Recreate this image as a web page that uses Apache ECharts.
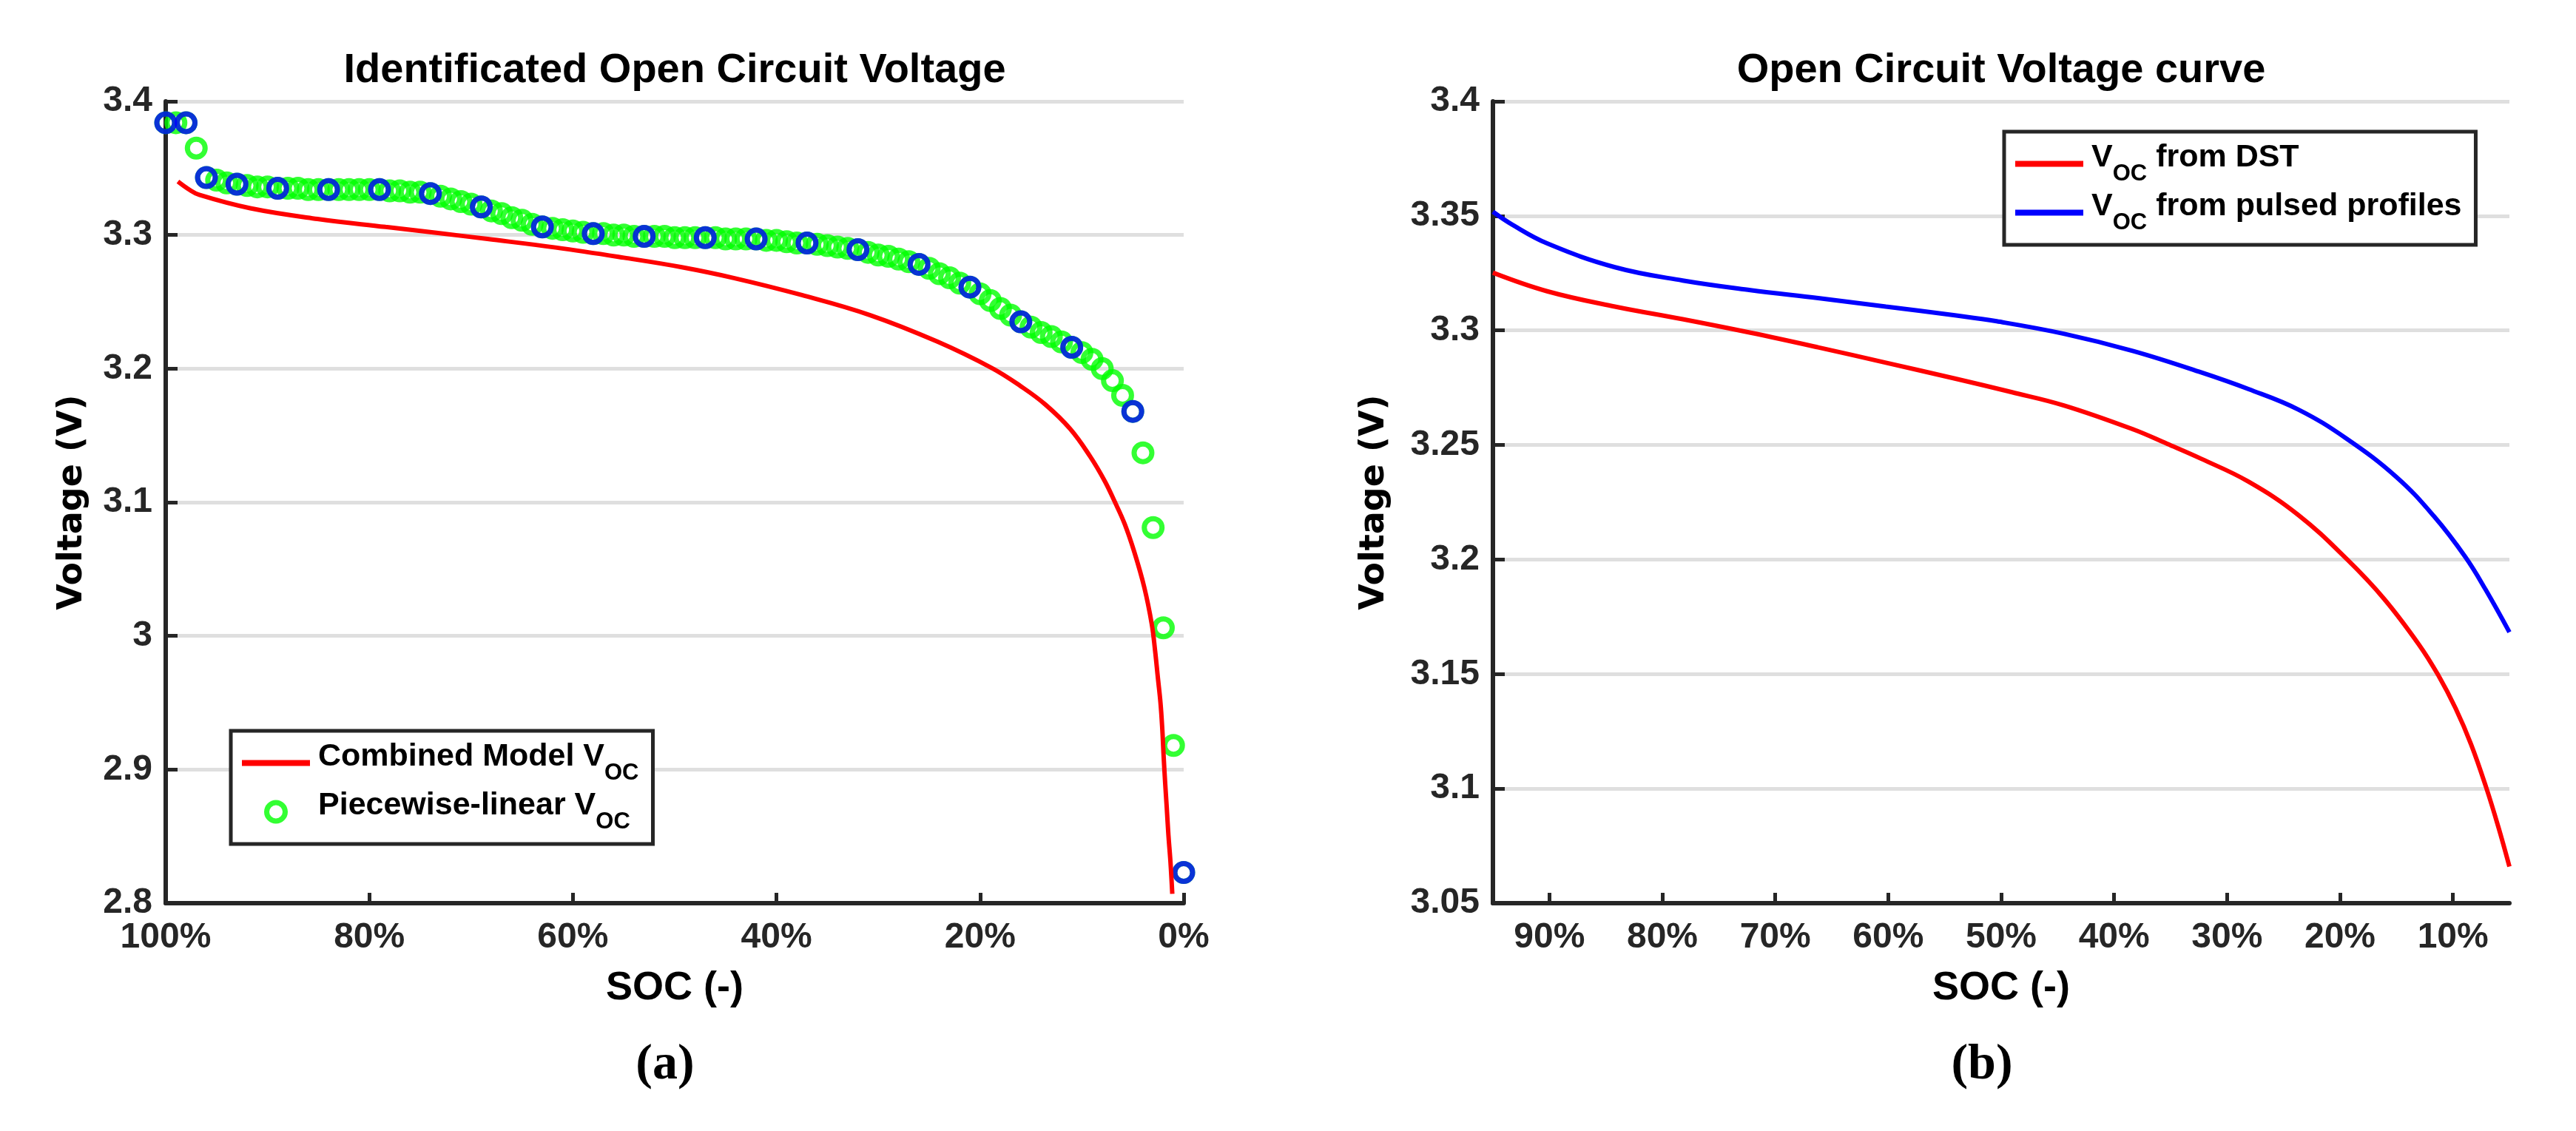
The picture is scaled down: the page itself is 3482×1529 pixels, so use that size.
<!DOCTYPE html>
<html>
<head>
<meta charset="utf-8">
<title>Open Circuit Voltage</title>
<script src="https://cdn.jsdelivr.net/npm/echarts@6/dist/echarts.min.js"></script>
<style>
    html, body { margin: 0; padding: 0; background: #fff; }
    #chart { width: 3482px; height: 1529px; }
</style>
</head>
<body>
<div id="chart"></div>
<script>
// ---- (a) identified OCV: SOC in %, voltage in V ----
var socPiecewise = [100, 99, 98, 97, 96, 95, 94, 93, 92, 91, 90, 89, 88, 87, 86, 85, 84, 83, 82, 81,
    80, 79, 78, 77, 76, 75, 74, 73, 72, 71, 70, 69, 68, 67, 66, 65, 64, 63, 62, 61,
    60, 59, 58, 57, 56, 55, 54, 53, 52, 51, 50, 49, 48, 47, 46, 45, 44, 43, 42, 41,
    40, 39, 38, 37, 36, 35, 34, 33, 32, 31, 30, 29, 28, 27, 26, 25, 24, 23, 22, 21,
    20, 19, 18, 17, 16, 15, 14, 13, 12, 11, 10, 9, 8, 7, 6, 5, 4, 3, 2, 1, 0];
var vPiecewise = [3.384, 3.384, 3.384, 3.365, 3.343, 3.341, 3.339, 3.338, 3.337, 3.336,
    3.336, 3.335, 3.335, 3.335, 3.334, 3.334, 3.334, 3.334, 3.334, 3.334,
    3.334, 3.334, 3.333, 3.333, 3.332, 3.332, 3.331, 3.329, 3.327, 3.325,
    3.323, 3.321, 3.318, 3.316, 3.313, 3.311, 3.308, 3.306, 3.305, 3.304,
    3.303, 3.302, 3.301, 3.301, 3.300, 3.300, 3.299, 3.299, 3.299, 3.299,
    3.298, 3.298, 3.298, 3.298, 3.298, 3.297, 3.297, 3.297, 3.297, 3.296,
    3.296, 3.295, 3.294, 3.294, 3.293, 3.292, 3.291, 3.290, 3.289, 3.287,
    3.285, 3.284, 3.282, 3.280, 3.278, 3.275, 3.271, 3.268, 3.264, 3.261,
    3.256, 3.251, 3.245, 3.240, 3.235, 3.231, 3.227, 3.224, 3.220, 3.216,
    3.212, 3.207, 3.200, 3.191, 3.180, 3.168, 3.137, 3.081, 3.006, 2.918, 2.823];

var socBreak = [100, 98, 96, 93, 89, 84, 79, 74, 69, 63, 58, 53, 47, 42, 37, 32, 26, 21, 16, 11, 5, 0];
var vBreak = [3.384, 3.384, 3.343, 3.338, 3.335, 3.334, 3.334, 3.331, 3.321, 3.306, 3.301,
    3.299, 3.298, 3.297, 3.294, 3.289, 3.278, 3.261, 3.235, 3.216, 3.168, 2.823];

var socModel = [98.8, 97.7, 96.7, 91.7, 85.1, 78.4, 73.4, 68.4, 61.7, 55.0, 49.4, 44.2, 37.5,
    30.8, 24.2, 18.84, 16.0, 13.57, 11.14, 9.21, 7.75, 6.78, 5.81, 4.84, 3.87, 3.14, 2.81,
    2.54, 2.28, 2.10, 1.97, 1.82, 1.66, 1.50, 1.30, 1.12];
var vModel = [3.340, 3.334, 3.330, 3.320, 3.312, 3.306, 3.3016, 3.297, 3.2906, 3.283, 3.276,
    3.2678, 3.255, 3.240, 3.2202, 3.2004, 3.1868, 3.1730, 3.1548, 3.1345, 3.1158, 3.1005, 3.0840,
    3.0625, 3.0363, 3.009, 2.989, 2.969, 2.950, 2.930, 2.910, 2.890, 2.871, 2.851, 2.831, 2.807];

// ---- (b) OCV curves ----
var socDst = [95, 90.2, 84.2, 78.2, 72.2, 66.2, 60.2, 54.1, 49.1, 44.4, 38.3, 35.3, 32.3, 28.1,
    23.7, 19.36, 16.09, 13.0, 11.3, 9.76, 8.4, 7.05, 6.0, 5.0];
var vDst = [3.3252, 3.3171, 3.3104, 3.3049, 3.2990, 3.2926, 3.2859, 3.2790, 3.2731, 3.2672,
    3.2568, 3.2505, 3.2440, 3.2340, 3.2195, 3.2000, 3.1828, 3.1628, 3.1495, 3.1350, 3.1194,
    3.1004, 3.0836, 3.0660];

var socPulsed = [95, 93.3, 90.2, 84.2, 78.2, 72.2, 66.2, 60.2, 54.1, 50.4, 44.4, 38.3, 32.3,
    28.1, 23.7, 19.4, 15.0, 11.7, 8.9, 7.1, 5];
var vPulsed = [3.3518, 3.3462, 3.3380, 3.3276, 3.3218, 3.3176, 3.3141, 3.3104, 3.3066, 3.3040,
    3.2985, 3.2910, 3.2817, 3.2744, 3.2655, 3.2527, 3.2360, 3.2190, 3.2011, 3.1868, 3.1683];

var socTicksB = [10, 20, 30, 40, 50, 60, 70, 80, 90];

function zip(xs, ys) {
    return xs.map(function (x, i) { return [x, ys[i]]; });
}

var FONT = '"Liberation Sans", Arial, Helvetica, sans-serif';
var WIDE = '"DejaVu Sans", Verdana, sans-serif';
var SERIF = '"Liberation Serif", "Times New Roman", serif';
var INK = '#262626';
var LINE_ICON = 'path://M0,0H92V8H0Z';

var NAMES = {
    model: 'Combined Model VOC',
    piece: 'Piecewise-linear VOC',
    dst: 'VOC from DST',
    pulsed: 'VOC from pulsed profiles'
};

// main text sits at the top of the line, "OC" is pushed down as a subscript
var legendRich = {
    mf: { fontFamily: FONT, fontSize: 43, fontWeight: 'bold', color: '#000', height: 43, verticalAlign: 'top', padding: [0, 0, 0, 6] },
    m: { fontFamily: FONT, fontSize: 43, fontWeight: 'bold', color: '#000', height: 43, verticalAlign: 'top' },
    s: { fontFamily: FONT, fontSize: 31, fontWeight: 'bold', color: '#000', height: 31, verticalAlign: 'bottom', padding: [28, 0, 0, 0] }
};

function legendText(name) {
    if (name === NAMES.model) return '{mf|Combined Model V}{s|OC}';
    if (name === NAMES.piece) return '{mf|Piecewise-linear V}{s|OC}';
    if (name === NAMES.dst) return '{mf|V}{s|OC}{m| from DST}';
    return '{mf|V}{s|OC}{m| from pulsed profiles}';
}

function xAxisOf(grid, min, max, extra) {
    var ax = {
        type: 'value', gridIndex: grid, min: min, max: max, inverse: true,
        name: 'SOC (-)', nameLocation: 'middle', nameGap: 88,
        nameTextStyle: { fontFamily: FONT, fontSize: 54, fontWeight: 'bold', color: '#000' },
        axisLine: { show: true, onZero: false, lineStyle: { color: INK, width: 6 } },
        axisTick: { show: true, inside: true, length: 14, lineStyle: { color: INK, width: 5 } },
        axisLabel: { margin: 23, fontFamily: FONT, fontSize: 48, fontWeight: 'bold', color: INK, formatter: '{value}%' },
        splitLine: { show: false }
    };
    for (var k in extra) {
        if (typeof extra[k] === 'object') Object.assign(ax[k], extra[k]); else ax[k] = extra[k];
    }
    return ax;
}

function yAxisOf(grid, min, max, step, gap) {
    return {
        type: 'value', gridIndex: grid, min: min, max: max, interval: step,
        name: 'Voltage (V)', nameLocation: 'middle', nameGap: gap,
        nameTextStyle: { fontFamily: WIDE, fontSize: 46, fontWeight: 'bold', color: '#000' },
        axisLine: { show: true, onZero: false, lineStyle: { color: INK, width: 6 } },
        axisTick: { show: true, inside: true, length: 16, lineStyle: { color: INK, width: 5 } },
        axisLabel: { margin: 18, fontFamily: FONT, fontSize: 48, fontWeight: 'bold', color: INK },
        splitLine: { show: true, lineStyle: { color: '#dfdfdf', width: 5 } }
    };
}

function legendOf(left, top, names) {
    return {
        orient: 'vertical', left: left, top: top,
        data: names.map(function (n) {
            if (n === NAMES.piece) {
                return { name: n, icon: 'circle', itemStyle: { color: 'rgba(0,0,0,0)', borderColor: '#00ff00', borderWidth: 7 } };
            }
            return { name: n, icon: LINE_ICON };
        }),
        itemWidth: 92, itemHeight: 25, itemGap: 7,
        padding: [14, 19, 14, 15],
        backgroundColor: '#fff', borderColor: INK, borderWidth: 5, borderRadius: 0,
        selectedMode: false,
        formatter: legendText,
        textStyle: { rich: legendRich }
    };
}

function titleOf(text, cx) {
    return {
        text: text, left: cx, top: 68, textAlign: 'center', padding: 0,
        textStyle: { fontFamily: FONT, fontSize: 56, fontWeight: 'bold', color: '#000' }
    };
}

function captionOf(letter, cx) {
    return {
        text: '{p|(}{b|' + letter + '}{p|)}', left: cx, top: 1406, textAlign: 'center', padding: 0,
        textStyle: {
            rich: {
                p: { fontFamily: SERIF, fontSize: 68, color: '#000' },
                b: { fontFamily: SERIF, fontSize: 68, fontWeight: 'bold', color: '#000' }
            }
        }
    };
}

var myChart = echarts.init(document.getElementById('chart'));

var option = {
    backgroundColor: '#fff',
    animation: false,
    title: [
        titleOf('Identificated Open Circuit Voltage', 912),
        titleOf('Open Circuit Voltage curve', 2705),
        captionOf('a', 899),
        captionOf('b', 2679)
    ],
    grid: [
        { left: 224, top: 137, width: 1376, height: 1084 },
        { left: 2018, top: 137, width: 1374, height: 1084 }
    ],
    legend: [
        legendOf(312, 988, [NAMES.model, NAMES.piece]),
        legendOf(2709, 178, [NAMES.dst, NAMES.pulsed])
    ],
    xAxis: [
        xAxisOf(0, 0, 100, { interval: 20 }),
        xAxisOf(1, 5, 95, {
            axisTick: { customValues: socTicksB },
            axisLabel: { customValues: socTicksB }
        })
    ],
    yAxis: [
        yAxisOf(0, 2.8, 3.4, 0.1, 103),
        yAxisOf(1, 3.05, 3.4, 0.05, 137)
    ],
    series: [
        {
            name: NAMES.model, type: 'line', xAxisIndex: 0, yAxisIndex: 0,
            data: zip(socModel, vModel), symbol: 'none', smooth: 0.4,
            lineStyle: { color: '#ff0000', width: 6 }, itemStyle: { color: '#ff0000' }
        },
        {
            name: NAMES.piece, type: 'scatter', xAxisIndex: 0, yAxisIndex: 0,
            data: zip(socPiecewise, vPiecewise), symbol: 'circle', symbolSize: 24, clip: false,
            itemStyle: { color: 'rgba(0,0,0,0)', borderColor: '#00ff00', borderWidth: 7 }
        },
        {
            name: 'Breakpoints', type: 'scatter', xAxisIndex: 0, yAxisIndex: 0,
            data: zip(socBreak, vBreak), symbol: 'circle', symbolSize: 24, clip: false,
            itemStyle: { color: 'rgba(0,0,0,0)', borderColor: '#0000ff', borderWidth: 7 }
        },
        {
            name: NAMES.dst, type: 'line', xAxisIndex: 1, yAxisIndex: 1,
            data: zip(socDst, vDst), symbol: 'none', smooth: 0.4,
            lineStyle: { color: '#ff0000', width: 6 }, itemStyle: { color: '#ff0000' }
        },
        {
            name: NAMES.pulsed, type: 'line', xAxisIndex: 1, yAxisIndex: 1,
            data: zip(socPulsed, vPulsed), symbol: 'none', smooth: 0.4,
            lineStyle: { color: '#0000ff', width: 6 }, itemStyle: { color: '#0000ff' }
        }
    ]
};

myChart.setOption(option);
</script>
</body>
</html>
